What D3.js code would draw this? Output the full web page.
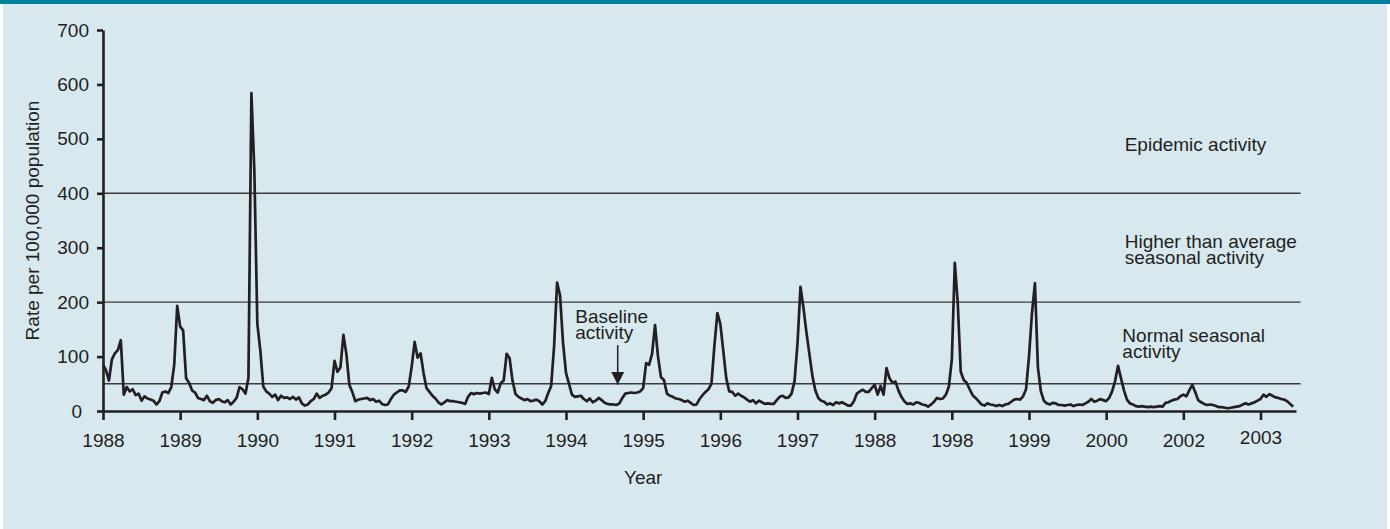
<!DOCTYPE html>
<html>
<head>
<meta charset="utf-8">
<style>
  body { margin: 0; background: #fff; }
  svg { display: block; }
  text { font-family: "Liberation Sans", Arial, Helvetica, sans-serif; fill: #231f20; }
</style>
</head>
<body>
<svg width="1390" height="529"></svg>
<script src="https://d3js.org/d3.v7.min.js"></script>
<script>

// tick labels as printed under the axis (the second "1988" is in the original)
var tickLabels = ["1988", "1989", "1990", "1991", "1992", "1993", "1994", "1995",
                  "1996", "1997", "1988", "1998", "1999", "2000", "2002", "2003"];

var yTicks = [0, 100, 200, 300, 400, 500, 600, 700];

// activity thresholds (rate per 100,000)
var thresholds = [50, 200, 400];

// fortnightly rates, one array per labelled interval
var r1988  = [85, 75, 56, 95, 106, 112, 130, 30, 44, 36, 40, 29, 32, 19, 27, 23, 21, 19, 12, 18, 34, 36, 33, 44, 85, 193];
var r1989  = [155, 148, 60, 52, 38, 34, 24, 22, 20, 28, 18, 15, 20, 22, 18, 16, 20, 12, 17, 24, 44, 40, 32, 60, 584, 440];
var r1990  = [160, 112, 45, 36, 32, 26, 30, 20, 28, 24, 25, 22, 26, 21, 25, 14, 10, 12, 18, 22, 32, 24, 28, 30, 34, 42];
var r1991  = [92, 72, 80, 140, 105, 48, 35, 18, 21, 22, 23, 24, 20, 22, 17, 19, 13, 11, 12, 22, 30, 34, 38, 38, 35, 45];
var r1992  = [81, 127, 98, 106, 70, 42, 35, 28, 23, 16, 12, 16, 20, 18, 18, 17, 16, 15, 13, 26, 33, 31, 33, 32, 33, 34];
var r1993  = [31, 61, 40, 34, 51, 56, 105, 97, 55, 31, 26, 23, 20, 22, 18, 19, 21, 18, 12, 18, 33, 46, 120, 236, 212, 125];
var r1994  = [70, 50, 30, 26, 27, 28, 22, 18, 23, 16, 19, 24, 20, 15, 13, 12, 12, 11, 14, 24, 32, 33, 34, 33, 34, 36];
var r1995  = [42, 88, 85, 105, 158, 100, 62, 57, 32, 28, 26, 23, 22, 20, 17, 19, 15, 11, 12, 22, 29, 35, 40, 50, 120, 180];
var r1996  = [160, 110, 60, 36, 35, 28, 32, 28, 25, 21, 17, 20, 14, 19, 16, 13, 14, 13, 13, 20, 26, 28, 24, 25, 32, 55];
var r1997  = [124, 228, 190, 145, 105, 65, 38, 24, 19, 17, 12, 14, 11, 16, 14, 16, 13, 10, 10, 18, 32, 36, 39, 35, 35, 42];
var r1988b = [48, 30, 46, 30, 79, 60, 52, 54, 38, 26, 18, 13, 14, 12, 16, 15, 12, 11, 8, 12, 17, 24, 22, 23, 30, 45];
var r1998  = [95, 272, 198, 72, 57, 52, 40, 29, 24, 18, 12, 10, 14, 12, 11, 9, 11, 9, 12, 13, 17, 21, 22, 21, 27, 40];
var r1999  = [100, 180, 235, 80, 36, 19, 14, 12, 15, 14, 11, 11, 10, 11, 12, 9, 11, 12, 11, 14, 17, 22, 17, 19, 22, 20];
var r2000  = [18, 24, 36, 55, 83, 60, 38, 21, 14, 12, 9, 8, 9, 8, 7, 8, 7, 8, 9, 8, 15, 16, 19, 21, 22, 27];
var r2002  = [30, 27, 38, 48, 35, 20, 16, 13, 11, 12, 11, 9, 7, 7, 6, 5, 6, 7, 8, 9, 12, 14, 12, 14, 16, 19];
var r2003  = [22, 30, 26, 31, 28, 25, 24, 22, 21, 18, 13, 8];

var seasons = [r1988, r1989, r1990, r1991, r1992, r1993, r1994, r1995,
               r1996, r1997, r1988b, r1998, r1999, r2000, r2002, r2003];

var data = [];
seasons.forEach(function(vals, i) {
    vals.forEach(function(v, k) {
        data.push({t: i + k / 26, rate: v});
    });
});

var svg = d3.select("svg"),
    W = +svg.attr("width"),
    H = +svg.attr("height"),
    margin = {top: 30, left: 103},
    width = 1193,
    height = 381,
    ink = "#231f20";

// panel background + teal band
svg.append("rect").attr("x", 3).attr("y", 0).attr("width", W - 6).attr("height", H).attr("fill", "#d8e8ef");
svg.append("rect").attr("x", 0).attr("y", 0).attr("width", W).attr("height", 4).attr("fill", "#00809f");

var g = svg.append("g").attr("transform", "translate(" + margin.left + "," + margin.top + ")");

var x = d3.scaleLinear().domain([0, 15.46]).range([0, width]);
var y = d3.scaleLinear().domain([0, 700]).range([height, 0]);

// threshold lines
g.selectAll(".thr")
  .data(thresholds)
  .enter().append("line")
    .attr("class", "thr")
    .attr("x1", 0)
    .attr("x2", x(15.52))
    .attr("y1", function(d) { return y(d); })
    .attr("y2", function(d) { return y(d); })
    .attr("stroke", "#3b3b3b")
    .attr("stroke-width", 1.4);

var line = d3.line()
    .x(function(d) { return x(d.t); })
    .y(function(d) { return y(d.rate); });

g.append("path")
    .datum(data)
    .attr("fill", "none")
    .attr("stroke", ink)
    .attr("stroke-width", 2.7)
    .attr("stroke-linejoin", "round")
    .attr("d", line);

// axes
var xAxis = g.append("g")
    .attr("transform", "translate(0," + height + ")")
    .call(d3.axisBottom(x)
        .tickValues(d3.range(tickLabels.length))
        .tickFormat(function(i) { return tickLabels[i]; })
        .tickSize(9)
        .tickSizeOuter(0)
        .tickPadding(14));

var yAxis = g.append("g")
    .call(d3.axisLeft(y)
        .tickValues(yTicks)
        .tickSize(6)
        .tickSizeOuter(0)
        .tickPadding(8));

[xAxis, yAxis].forEach(function(a) {
    a.attr("font-size", 19).attr("font-family", null);
    a.select(".domain").attr("stroke", ink).attr("stroke-width", 2.6);
    a.selectAll(".tick line").attr("stroke", ink).attr("stroke-width", 2.6);
    a.selectAll(".tick text").attr("fill", ink);
});

// small quirks of the original labels
yAxis.selectAll(".tick text").filter(function(d) { return d === 0; }).attr("dx", -7);
xAxis.selectAll(".tick text").filter(function(d) { return d === 15; }).attr("dy", "0.55em");

// axis titles
g.append("text")
    .attr("x", x(7))
    .attr("y", height + 73)
    .attr("text-anchor", "middle")
    .style("font-size", "19px")
    .text("Year");

g.append("text")
    .attr("transform", "translate(-64," + y(350) + ") rotate(-90)")
    .attr("text-anchor", "middle")
    .style("font-size", "19px")
    .text("Rate per 100,000 population");

// zone labels
var notes = [
    {t: 13.24, v: 477, lines: ["Epidemic activity"]},
    {t: 13.24, v: 300, lines: ["Higher than average", "seasonal activity"]},
    {t: 13.21, v: 127, lines: ["Normal seasonal", "activity"]},
    {t: 6.12, v: 162, lines: ["Baseline", "activity"]}
];

notes.forEach(function(n) {
    var txt = g.append("text")
        .attr("x", x(n.t))
        .attr("y", y(n.v))
        .style("font-size", "19px");
    n.lines.forEach(function(s, i) {
        txt.append("tspan")
            .attr("x", x(n.t))
            .attr("dy", i === 0 ? 0 : 16)
            .text(s);
    });
});

// baseline arrow
svg.append("defs").append("marker")
    .attr("id", "head")
    .attr("viewBox", "0 0 10 10")
    .attr("refX", 10)
    .attr("refY", 5)
    .attr("markerUnits", "userSpaceOnUse")
    .attr("markerWidth", 13)
    .attr("markerHeight", 13)
    .attr("orient", "auto")
  .append("path")
    .attr("d", "M0,0L10,5L0,10Z")
    .attr("fill", ink);

g.append("line")
    .attr("x1", x(6.67))
    .attr("x2", x(6.67))
    .attr("y1", y(121))
    .attr("y2", y(48))
    .attr("stroke", ink)
    .attr("stroke-width", 1.5)
    .attr("marker-end", "url(#head)");

</script>
</body>
</html>
